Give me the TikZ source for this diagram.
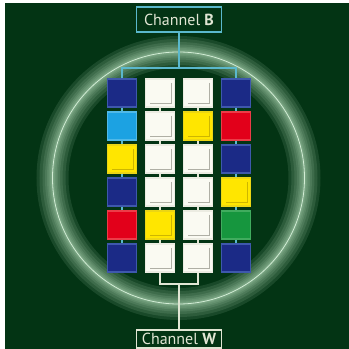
\documentclass[tikz,border=0pt]{standalone}
\usepackage{fontspec}
\setmainfont{PT Sans}
\usepackage{tikz}
\usetikzlibrary{
    positioning,
    calc
}
\definecolor{field}{RGB}{3,52,20}
\definecolor{halo}{RGB}{190,230,195}
\definecolor{wire}{RGB}{90,184,204}
\definecolor{pale}{RGB}{225,230,212}
\definecolor{cnavy}{RGB}{27,42,134}
\definecolor{cnavyE}{RGB}{62,88,172}
\definecolor{cnavyS}{RGB}{27,42,134}
\definecolor{csky}{RGB}{28,162,226}
\definecolor{cskyE}{RGB}{80,185,232}
\definecolor{cskyS}{RGB}{28,162,226}
\definecolor{cyellow}{RGB}{255,230,0}
\definecolor{cyellowE}{RGB}{236,214,20}
\definecolor{cyellowS}{RGB}{205,182,0}
\definecolor{cred}{RGB}{226,0,26}
\definecolor{credE}{RGB}{236,60,72}
\definecolor{credS}{RGB}{226,0,26}
\definecolor{cgreen}{RGB}{22,150,62}
\definecolor{cgreenE}{RGB}{64,172,94}
\definecolor{cgreenS}{RGB}{22,150,62}
\definecolor{cwhite}{RGB}{250,250,242}
\definecolor{cwhiteE}{RGB}{236,236,226}
\definecolor{cwhiteS}{RGB}{175,175,165}
\tikzstyle{channel} = [
    rectangle,
    line width=1.2pt,
    fill=field,
    text=pale,
    minimum width=85pt,
    text height=11.5pt,
    text depth=0pt,
    inner sep=0pt,
    font=\fontsize{16}{16}\selectfont
]
\tikzstyle{feed} = [
    line width=1.5pt,
    draw=wire
]
\tikzstyle{return} = [
    line width=1.5pt,
    draw=pale
]
\tikzset{cell/.style={
    rectangle,
    minimum width=29pt,
    minimum height=28pt,
    inner sep=0pt,
    line width=1.2pt,
    fill=c#1,
    draw=c#1E,
    path picture={\draw[c#1S, line width=1pt]
        ([xshift=-3pt,yshift=-4pt]path picture bounding box.north east) |-
        ([xshift=4pt,yshift=3pt]path picture bounding box.south west);}
}}

\begin{document}
\begin{tikzpicture}[x=1pt, y=1pt]
        \useasboundingbox (0,0) rectangle (349,349);
        \fill[white] (0,0) rectangle (349,349);
        \fill[field] (5,0) rectangle (349,346);

        % Halo ring
        \coordinate (ctr) at (178.5,171);
        \foreach \w in {32,26,20,15,11,8,5,3}
            \draw[halo, line width=\w pt, opacity=0.12] (ctr) circle (126pt);
        \draw[halo!70!white, line width=0.8pt] (ctr) circle (126pt);

        % Cells
        \foreach \ca/\cb/\cc/\cd [count=\r] in {navy/white/white/navy,
            sky/white/yellow/red, yellow/white/white/navy,
            navy/white/white/yellow, red/yellow/white/green,
            navy/white/white/navy} {
            \node[cell=\ca] (s\r-1) at (122,289-33*\r) {};
            \node[cell=\cb] (s\r-2) at (160,289-33*\r) {};
            \node[cell=\cc] (s\r-3) at (198,289-33*\r) {};
            \node[cell=\cd] (s\r-4) at (236,289-33*\r) {};
        }

        % Links down each column
        \foreach \r in {1,...,5} {
            \pgfmathtruncatemacro{\n}{\r+1}
            \draw[feed] (s\r-1.south) -- (s\n-1.north);
            \draw[return] (s\r-2.south) -- (s\n-2.north);
            \draw[return] (s\r-3.south) -- (s\n-3.north);
            \draw[feed] (s\r-4.south) -- (s\n-4.north);
        }

        % Channel B
        \node[channel, draw=wire, minimum height=25pt] (chanB) at (179,329.5) {Channel \textbf{B}};
        \coordinate (hubB) at (179,281);
        \draw[feed] (chanB) -- (hubB);
        \draw[feed] (s1-1.north) |- (hubB) -| (s1-4.north);

        % Channel W
        \node[channel, draw=pale, minimum height=18pt] (chanW) at (179,10) {Channel \textbf{W}};
        \coordinate (hubW) at (179,65);
        \draw[return] (s6-2.south) |- (hubW) -| (s6-3.south);
        \draw[return] (hubW) -- (chanW);
    \end{tikzpicture}
\end{document}
